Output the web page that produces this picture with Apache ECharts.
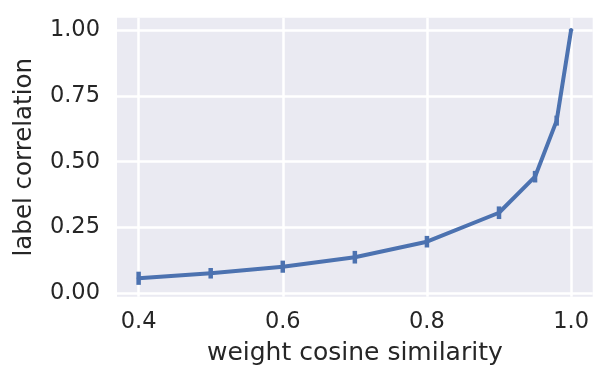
<!DOCTYPE html>
<html>
<head>
<meta charset="utf-8">
<script src="https://cdn.jsdelivr.net/npm/echarts@6/dist/echarts.min.js"></script>
<style>
html,body{margin:0;padding:0;background:#fff;}
#chart{width:602px;height:373px;}
</style>
</head>
<body>
<div id="chart"></div>
<script>
var xValues = [0.4, 0.5, 0.6, 0.7, 0.8, 0.9, 0.95, 0.98, 1.0];
var yValues = [0.057, 0.076, 0.101, 0.137, 0.196, 0.306, 0.443, 0.656, 1.0];
var yErr = [0.025, 0.020, 0.023, 0.024, 0.022, 0.024, 0.022, 0.019, 0.003];
var xTicks = [0.4, 0.6, 0.8, 1.0];
var yTicks = [0, 0.25, 0.5, 0.75, 1.0];

var lineData = xValues.map(function (x, i) { return [x, yValues[i]]; });
var errData = xValues.map(function (x, i) { return [x, yValues[i] - yErr[i], yValues[i] + yErr[i]]; });

var FONT = 'DejaVu Sans';
var TXT = '#262626';
var BLUE = '#4C72B0';

var chart = echarts.init(document.getElementById('chart'), null, {renderer: 'canvas'});
chart.setOption({
  animation: false,
  backgroundColor: '#ffffff',
  grid: {left: 117, top: 17.7, width: 475.7, height: 279, backgroundColor: '#EAEAF2', show: true, borderWidth: 0},
  xAxis: {
    type: 'value', min: 0.37, max: 1.03,
    name: 'weight cosine similarity', nameLocation: 'middle', nameGap: 44,
    nameTextStyle: {fontFamily: FONT, fontSize: 25, color: TXT},
    axisLine: {show: false},
    axisTick: {show: false, customValues: xTicks},
    axisLabel: {customValues: xTicks, fontFamily: FONT, fontSize: 22.5, color: TXT, margin: 14,
      formatter: function (v) { return v.toFixed(1); }},
    splitLine: {show: true, lineStyle: {color: '#ffffff', width: 2.5}}
  },
  yAxis: {
    type: 'value', min: -0.013, max: 1.047,
    name: 'label correlation', nameLocation: 'middle', nameGap: 80, nameRotate: 90,
    nameTextStyle: {fontFamily: FONT, fontSize: 24.5, color: TXT},
    axisLine: {show: false},
    axisTick: {show: false, customValues: yTicks},
    axisLabel: {customValues: yTicks, fontFamily: FONT, fontSize: 22.5, color: TXT, margin: 17,
      formatter: function (v) { return v.toFixed(2); }},
    splitLine: {show: true, lineStyle: {color: '#ffffff', width: 2.5}}
  },
  series: [
    {
      type: 'line', data: lineData, symbol: 'none',
      lineStyle: {color: BLUE, width: 4, cap: 'round', join: 'round'},
      z: 3
    },
    {
      type: 'custom', data: errData, z: 4,
      encode: {x: 0, y: [1, 2]},
      renderItem: function (params, api) {
        var x = api.value(0);
        var lo = api.coord([x, api.value(1)]);
        var hi = api.coord([x, api.value(2)]);
        return {
          type: 'line',
          shape: {x1: lo[0], y1: lo[1], x2: hi[0], y2: hi[1]},
          style: {stroke: BLUE, lineWidth: 4.5, lineCap: 'butt'}
        };
      }
    }
  ]
});
</script>
</body>
</html>
